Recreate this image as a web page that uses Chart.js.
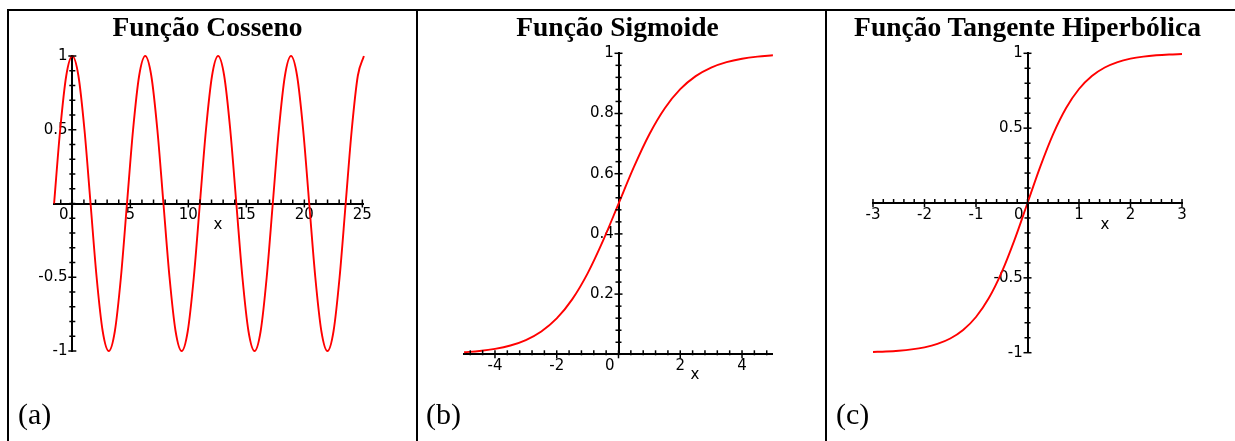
<!DOCTYPE html>
<html>
<head>
<meta charset="utf-8">
<script src="https://cdn.jsdelivr.net/npm/chart.js@4/dist/chart.umd.min.js"></script>
<style>
  html, body { margin: 0; padding: 0; background: #fff; }
  body { width: 1235px; height: 441px; position: relative; overflow: hidden; }
  canvas { position: absolute; left: 0; top: 0; }
  .line { position: absolute; background: #000; }
  .title { position: absolute; width: 420px; text-align: center; font-family: 'Liberation Serif', 'Times New Roman', serif; font-weight: bold; font-size: 27.5px; line-height: 27px; color: #000; white-space: nowrap; }
  .tag { position: absolute; font-family: 'Liberation Serif', 'Times New Roman', serif; font-size: 30px; line-height: 30px; color: #000; }
  .xlab { position: absolute; width: 20px; text-align: center; font-family: 'DejaVu Sans', sans-serif; font-size: 15px; line-height: 15px; color: #000; }
</style>
</head>
<body>
<div class="line" style="left:7px;top:9px;width:1228px;height:2px"></div>
<div class="line" style="left:7px;top:9px;width:2px;height:432px"></div>
<div class="line" style="left:416px;top:9px;width:2px;height:432px"></div>
<div class="line" style="left:825px;top:9px;width:2px;height:432px"></div>

<canvas id="c1" width="1235" height="441"></canvas>
<canvas id="c2" width="1235" height="441"></canvas>
<canvas id="c3" width="1235" height="441"></canvas>

<div class="title" style="left:-2.5px;top:13px">Função Cosseno</div>
<div class="title" style="left:407.5px;top:13px">Função Sigmoide</div>
<div class="title" style="left:817.5px;top:13px">Função Tangente Hiperbólica</div>

<div class="xlab" style="left:208px;top:217px">x</div>
<div class="xlab" style="left:685px;top:367px">x</div>
<div class="xlab" style="left:1095px;top:217px">x</div>

<div class="tag" style="left:18px;top:399px">(a)</div>
<div class="tag" style="left:426px;top:399px">(b)</div>
<div class="tag" style="left:836px;top:399px">(c)</div>

<script>
// ---- data ----
const cosX = [-1.571,-1.047,-0.524,0,0.524,1.047,1.571,2.094,2.618,3.142,3.665,4.189,4.712,5.236,5.760,6.283,6.807,7.330,7.854,8.378,8.901,9.425,9.948,10.472,10.996,11.519,12.043,12.566,13.090,13.614,14.137,14.661,15.184,15.708,16.232,16.755,17.279,17.802,18.326,18.850,19.373,19.897,20.420,20.944,21.468,21.991,22.515,23.038,23.562,24.086,24.609,25.133];
const cosY = [0,0.5,0.866,
  1,0.866,0.5,0,-0.5,-0.866,-1,-0.866,-0.5,0,0.5,0.866,
  1,0.866,0.5,0,-0.5,-0.866,-1,-0.866,-0.5,0,0.5,0.866,
  1,0.866,0.5,0,-0.5,-0.866,-1,-0.866,-0.5,0,0.5,0.866,
  1,0.866,0.5,0,-0.5,-0.866,-1,-0.866,-0.5,0,0.5,0.866,
  1];

const sigX = [-5,-4.5,-4,-3.5,-3,-2.5,-2,-1.5,-1,-0.5,0,0.5,1,1.5,2,2.5,3,3.5,4,4.5,5];
const sigY = [0.0067,0.011,0.018,0.0293,0.0474,0.0759,0.1192,0.1824,0.2689,0.3775,0.5,0.6225,0.7311,0.8176,0.8808,0.9241,0.9526,0.9707,0.982,0.989,0.9933];

const tanhX = [-3,-2.75,-2.5,-2.25,-2,-1.75,-1.5,-1.25,-1,-0.75,-0.5,-0.25,0,0.25,0.5,0.75,1,1.25,1.5,1.75,2,2.25,2.5,2.75,3];
const tanhY = [-0.9951,-0.9919,-0.9866,-0.978,-0.964,-0.9414,-0.9051,-0.8483,-0.7616,-0.6351,-0.4621,-0.2449,0,0.2449,0.4621,0.6351,0.7616,0.8483,0.9051,0.9414,0.964,0.978,0.9866,0.9919,0.9951];

// tick labels
const cosXLabels = [0,5,10,15,20,25];
const cosYLabels = [-1,-0.5,0.5,1];
const sigXLabels = [-4,-2,0,2,4];
const sigYLabels = [0.2,0.4,0.6,0.8,1];
const tanhXLabels = [-3,-2,-1,0,1,2,3];
const tanhYLabels = [-1,-0.5,0.5,1];

// ---- helpers ----
function labeler(list, isX) {
  return function(value) {
    for (const v of list) {
      if (Math.abs(v - value) < 1e-6) {
        if (isX) return v === 0 ? '0   \u2009' : String(v);
        return String(v) + ' ';
      }
    }
    return '';
  };
}

function stepTicks(step) {
  return function(scale) {
    const t = [];
    const k0 = Math.ceil(scale.min / step - 1e-9);
    for (let k = k0; k * step <= scale.max + 1e-9; k++) {
      t.push({ value: Math.round(k * step * 1e6) / 1e6 });
    }
    scale.ticks = t;
  };
}

const crossTicks = {
  id: 'crossTicks',
  afterDraw(chart) {
    const ctx = chart.ctx;
    const xs = chart.scales.x, ys = chart.scales.y;
    const x0 = xs.getPixelForValue(0), y0 = ys.getPixelForValue(0);
    ctx.save();
    ctx.strokeStyle = '#000';
    ctx.lineWidth = 1.5;
    xs.ticks.forEach(t => {
      const px = xs.getPixelForValue(t.value);
      const major = t.label !== '';
      ctx.beginPath();
      ctx.moveTo(px, y0 - 4);
      ctx.lineTo(px, y0 + (major ? 4 : 1));
      ctx.stroke();
    });
    ys.ticks.forEach(t => {
      const py = ys.getPixelForValue(t.value);
      const major = t.label !== '';
      ctx.beginPath();
      ctx.moveTo(x0 - (major ? 4 : 3), py);
      ctx.lineTo(x0 + (major ? 4 : 3), py);
      ctx.stroke();
    });
    ctx.restore();
  }
};

const tickFont = { family: "'DejaVu Sans', sans-serif", size: 15 };

function makeChart(id, xs, ys, cfg) {
  const pts = xs.map((x, i) => ({ x: x, y: ys[i] }));
  return new Chart(document.getElementById(id), {
    type: 'line',
    data: { datasets: [{
      data: pts,
      borderColor: '#ff0000',
      borderWidth: 1.9,
      pointRadius: 0,
      cubicInterpolationMode: 'monotone',
      fill: false,
      clip: false
    }] },
    options: {
      responsive: false,
      animation: false,
      events: [],
      layout: { padding: cfg.padding },
      plugins: { legend: { display: false }, tooltip: { enabled: false } },
      scales: {
        x: {
          type: 'linear', min: cfg.xmin, max: cfg.xmax,
          position: { y: 0 },
          afterBuildTicks: stepTicks(cfg.xstep),
          ticks: { autoSkip: false, maxRotation: 0, minRotation: 0,
                   padding: 0, color: '#000', font: tickFont, callback: labeler(cfg.xl, true) },
          grid: { drawOnChartArea: false, tickLength: 3, tickColor: 'rgba(0,0,0,0)' },
          border: { color: '#000', width: 2 }
        },
        y: {
          type: 'linear', min: cfg.ymin, max: cfg.ymax,
          position: { x: 0 },
          afterBuildTicks: stepTicks(cfg.ystep),
          ticks: { autoSkip: false,
                   padding: 0, color: '#000', font: tickFont, callback: labeler(cfg.yl, false) },
          grid: { drawOnChartArea: false, tickLength: 3, tickColor: 'rgba(0,0,0,0)' },
          border: { color: '#000', width: 2 }
        }
      }
    },
    plugins: [crossTicks]
  });
}

makeChart('c1', cosX, cosY, {
  padding: { left: 54.1, right: 871.1, top: 56, bottom: 90 },
  xmin: -1.571, xmax: 25.133, xstep: 1, ymin: -1, ymax: 1, ystep: 0.1,
  xl: cosXLabels, yl: cosYLabels
});
makeChart('c2', sigX, sigY, {
  padding: { left: 464.1, right: 462.1, top: 53.3, bottom: 86.7 },
  xmin: -5, xmax: 5, xstep: 0.4, ymin: 0, ymax: 1, ystep: 0.04,
  xl: sigXLabels, yl: sigYLabels
});
makeChart('c3', tanhX, tanhY, {
  padding: { left: 873, right: 53, top: 53.3, bottom: 88.3 },
  xmin: -3, xmax: 3, xstep: 0.2, ymin: -1, ymax: 1, ystep: 0.1,
  xl: tanhXLabels, yl: tanhYLabels
});
</script>
</body>
</html>
